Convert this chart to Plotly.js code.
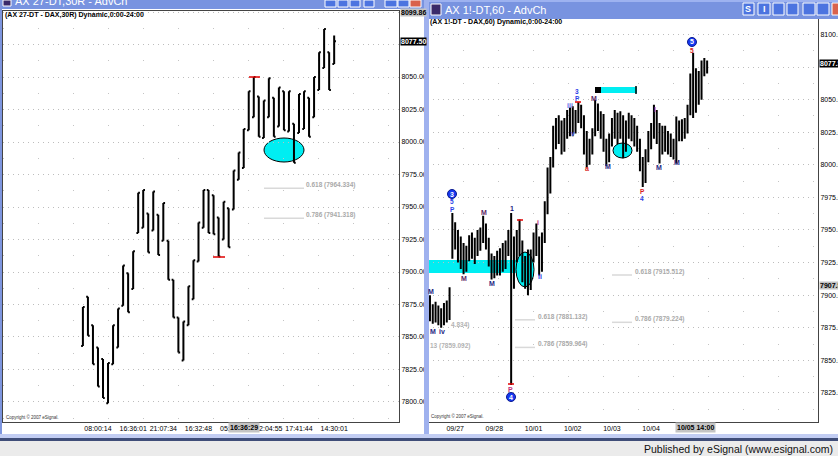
<!DOCTYPE html>
<html><head><meta charset="utf-8">
<script src="https://cdn.plot.ly/plotly-3.0.1.min.js"></script>
<style>html,body{margin:0;padding:0;background:#fff;overflow:hidden}#chart{width:838px;height:456px}</style>
</head><body><div id="chart"></div>
<script>
// ---------- Left chart: AX 27-DT - DAX, 30R (range bars) ----------
const L_open  = [7843,7881,7859,7842,7833,7799,7829,7842,7874,7899,7887,7930,7934,7945,7932,7944,7924,7924,7894,7865,7832,7859,7879,7908,7934,7963,7959,7942,7925,7949,7948,7971,7980,8009,8019,8035,8003,8019,8034,8012,8039,8008,8014,8007,8010,8034,8019,8040,8057,8069,8060];
const L_high  = [7873,7881,7859,7842,7833,7830,7859,7872,7905,7899,7916,7961,7963,7945,7962,7944,7953,7924,7894,7865,7862,7889,7909,7938,7963,7963,7959,7942,7954,7949,7978,7992,8010,8039,8050,8035,8032,8049,8034,8042,8039,8039,8014,8037,8039,8034,8050,8069,8087,8069,8082];
const L_low   = [7843,7851,7829,7812,7803,7799,7829,7842,7874,7869,7887,7930,7934,7915,7932,7913,7924,7894,7865,7838,7832,7859,7879,7908,7934,7930,7929,7912,7925,7919,7948,7971,7980,8009,8019,8004,8003,8019,8004,8012,8009,8008,7984,8007,8010,8004,8019,8040,8057,8040,8060];
const L_close = [7873,7851,7829,7812,7803,7830,7859,7872,7905,7869,7916,7961,7963,7915,7962,7913,7953,7894,7865,7838,7862,7889,7909,7938,7963,7930,7929,7912,7954,7919,7978,7992,8010,8039,8050,8004,8032,8049,8004,8042,8009,8039,7984,8037,8039,8004,8050,8069,8087,8040,8077.5];
const L_tickBar  = [3,10,16,23,30,37,43,50];
const L_tickText = ['08:00:14','16:36:01','21:07:34','16:32:48','05:48:10','12:04:55','17:41:44','14:30:01'];
const L_fibRatio = ['0.618','0.786'];
const L_fibValue = [7964.334, 7941.318];

// ---------- Right chart: AX 1!-DT - DAX, 60 min ----------
const R_open  = [7892,7884,7888,7882,7886,7879,7890,7884,7930,7952,7940,7930,7938,7922,7934,7940,7932,7940,7945,7948,7950,7940,7928,7918,7925,7920,7930,7924,7936,7945,7915,7935,7945,7935,7915,7925,7908,7930,7942,7935,7922,7944,7968,7992,8002,8025,8030,8020,8014,8032,8026,8040,8028,8038,8044,8032,8012,8005,8016,8024,8044,8030,8036,8014,8004,8020,8030,8026,8034,8024,8012,8030,8026,8034,8020,8016,8000,7992,8006,8020,8026,8040,8022,8010,8024,8016,8020,8012,8015,8030,8022,8030,8028,8042,8062,8050,8068,8056,8074,8072];
const R_high  = [7900,7893,7895,7892,7890,7894,7896,7906,7963,7956,7950,7945,7940,7938,7946,7948,7944,7950,7952,7961,7955,7944,7932,7930,7934,7936,7940,7942,7950,7963,7945,7950,7958,7942,7930,7935,7935,7948,7955,7945,7948,7972,7998,8006,8030,8036,8038,8034,8036,8042,8044,8045,8042,8048,8046,8038,8026,8020,8028,8050,8047,8041,8039,8020,8024,8036,8042,8040,8041,8038,8034,8040,8038,8036,8030,8020,8006,8012,8026,8032,8046,8042,8032,8030,8030,8026,8024,8020,8037,8034,8035,8036,8046,8070,8086,8074,8072,8080,8082,8080];
const R_low   = [7880,7878,7879,7877,7875,7877,7879,7881,7928,7935,7925,7920,7916,7918,7926,7928,7924,7930,7934,7940,7935,7922,7912,7913,7915,7915,7918,7920,7930,7831,7905,7925,7930,7910,7905,7900,7904,7925,7930,7915,7918,7940,7962,7978,7998,8012,8016,8008,8010,8020,8022,8022,8024,8032,8028,8008,7998,8000,8008,8022,8026,8020,8010,7999,8002,8014,8020,8016,8020,8005,8010,8020,8018,8014,8010,7995,7983,7986,8002,8012,8020,8016,8001,8008,8010,8008,8006,8004,8001,8018,8018,8020,8024,8038,8036,8040,8046,8050,8068,8070];
const R_close = [7884,7888,7882,7886,7879,7890,7884,7902,7952,7940,7930,7938,7922,7934,7940,7932,7940,7945,7948,7950,7940,7928,7918,7925,7920,7930,7924,7936,7945,7915,7935,7945,7935,7915,7925,7908,7930,7942,7935,7922,7944,7968,7992,8002,8025,8030,8020,8014,8032,8026,8040,8028,8038,8044,8032,8012,8005,8016,8024,8044,8030,8036,8014,8004,8020,8030,8026,8034,8024,8012,8030,8026,8034,8020,8016,8000,7992,8006,8020,8026,8040,8022,8010,8024,8016,8020,8012,8015,8030,8022,8030,8028,8042,8062,8050,8068,8056,8074,8072,8077.5];
const R_tickBar  = [9,23,37,51,65,79];
const R_tickText = ['09/27','09/28','10/01','10/02','10/03','10/04'];
const R_fibRatio = ['0.618','0.786','0.618','0.786'];
const R_fibValue = [7915.512, 7879.224, 7881.132, 7859.964];

// ---------- helpers (layout only) ----------
const W = 838, H = 456;
const px = x => x / W, py = y => 1 - y / H;
const FF = 'Liberation Sans';
function rect(x0, y0, x1, y1, fill, line, lw, layer) {
  return {type:'rect', xref:'paper', yref:'paper', x0:px(x0), x1:px(x1), y0:py(y1), y1:py(y0),
          fillcolor:fill, line:{color:line||fill, width:lw||0}, layer:layer||'above'};
}
function ell(x0, y0, x1, y1) {
  return {type:'circle', xref:'paper', yref:'paper', x0:px(x0), x1:px(x1), y0:py(y1), y1:py(y0),
          fillcolor:'#00eef2', line:{color:'#000', width:1}, layer:'below'};
}
function hline(x0, x1, y, color, w) {
  return {type:'line', xref:'paper', yref:'paper', x0:px(x0), x1:px(x1), y0:py(y), y1:py(y), line:{color:color, width:w||1}};
}
function T(x, y, text, o) {
  o = o || {};
  const a = {xref:'paper', yref:'paper', x:px(x), y:py(y), text:text, showarrow:false,
    xanchor:o.xa||'center', yanchor:'middle', font:{family:o.ff||FF, size:o.s||7, color:o.c||'#000'}, borderpad:o.bp||0};
  if (o.bg) a.bgcolor = o.bg;
  return a;
}

const shapes = [], ann = [];
// cyan drawings (under bars)
shapes.push(ell(264, 138, 304, 162));
shapes.push(rect(428, 260, 516, 273, '#00eef2', null, 0, 'below'));
shapes.push(ell(516, 252, 534, 287));
shapes.push(ell(613, 143, 632, 158));
shapes.push(rect(595, 87, 637, 93, '#00eef2', null, 0, 'above'));
shapes.push(rect(595, 87, 601, 93, '#000', null, 0, 'above'));
shapes.push({type:'line', xref:'paper', yref:'paper', x0:px(636), x1:px(636), y0:py(86), y1:py(94), line:{color:'#000', width:1.5}});

// red ticks
shapes.push(hline(249, 260, 77, '#e00000', 1.5));
shapes.push(hline(213, 225, 257, '#e00000', 1.5));
shapes.push(hline(517, 523, 220, '#e00000', 1.5));
shapes.push(hline(508, 514, 384, '#e00000', 1.5));
shapes.push(hline(575, 581, 102, '#e00000', 1.5));

// fib levels
function yL(v){ return 142 - (v - 8000) * 1.3; }
function yR(v){ return 34.5 + (8100 - v) * 1.3036; }
L_fibValue.forEach((v, i) => {
  shapes.push(hline(264, 304, yL(v), '#d9d9d9', 1.5));
  ann.push(T(305, yL(v) - 3, '<b>' + L_fibRatio[i] + ' (' + v.toFixed(3) + ')</b>', {xa:'left', c:'#a9a9a9', s:6.5}));
});
R_fibValue.forEach((v, i) => {
  const x0 = i < 2 ? 612 : 515;
  shapes.push(hline(x0, x0 + 20, yR(v), '#d9d9d9', 1.5));
  ann.push(T(x0 + 22, yR(v) - 3, '<b>' + R_fibRatio[i] + ' (' + v.toFixed(3) + ')</b>', {xa:'left', c:'#a9a9a9', s:6.5}));
});
ann.push(T(450, 325, '<b>4.834)</b>', {xa:'left', c:'#b3b3b3', s:6.5}));
ann.push(T(429, 346, '<b>13 (7859.092)</b>', {xa:'left', c:'#b3b3b3', s:6.5}));

// wave labels on right chart
const navy = '#25257f', purp = '#5c1f63', blue = '#2a3ee6', red = '#d81c1c', pink = '#c0307a';
function circ(cx, cy, t) {
  shapes.push({type:'circle', xref:'paper', yref:'paper', x0:px(cx-4.5), x1:px(cx+4.5), y0:py(cy+4.5), y1:py(cy-4.5),
               fillcolor:'#1638f0', line:{color:'#0a1a90', width:1}});
  ann.push(T(cx, cy, '<b>' + t + '</b>', {c:'#fff', s:7}));
}
ann.push(T(431, 291, '<b>M</b>', {c:navy}));
ann.push(T(433, 331, '<b>M</b>', {c:navy}));
ann.push(T(442, 331, '<b>iv</b>', {c:navy}));
circ(452, 194, '3');
ann.push(T(452, 202, '<b>5</b>', {c:blue, s:6.5}));
ann.push(T(452, 209.5, '<b>P</b>', {c:blue, s:6.5}));
ann.push(T(464, 278, '<b>M</b>', {c:purp}));
ann.push(T(484, 212, '<b>M</b>', {c:purp}));
ann.push(T(492, 283, '<b>M</b>', {c:navy}));
ann.push(T(512, 209, '<b>1</b>', {c:navy}));
ann.push(T(511, 389, '<b>P</b>', {c:pink}));
circ(511, 397, '4');
ann.push(T(540, 276, '<b>ii</b>', {c:blue}));
ann.push(T(538, 222, '<b>i</b>', {c:pink}));
ann.push(T(570, 106, '<b>iii</b>', {c:'#5a6ae8'}));
ann.push(T(573, 133, '<b>v</b>', {c:'#5a6ae8'}));
ann.push(T(577, 91, '<b>3</b>', {c:blue, s:6.5}));
ann.push(T(577, 98.5, '<b>P</b>', {c:blue, s:6.5}));
ann.push(T(587, 168, '<b>a</b>', {c:red}));
ann.push(T(594, 99, '<b>M</b>', {c:purp}));
ann.push(T(608, 166, '<b>M</b>', {c:navy}));
ann.push(T(642, 191, '<b>P</b>', {c:red, s:6.5}));
ann.push(T(642, 198.5, '<b>4</b>', {c:blue, s:6.5}));
ann.push(T(655, 110, '<b>I</b>', {c:pink}));
ann.push(T(659, 167, '<b>M</b>', {c:navy}));
ann.push(T(677, 163, '<b>M</b>', {c:navy}));
circ(692, 42, '5');
ann.push(T(692, 50, '<b>5</b>', {c:red, s:6.5}));

// price boxes & cursor boxes
ann.push(T(400, yL(8099.86), '<b>8099.86</b>', {xa:'left', bg:'#c4c4c4', s:7}));
ann.push(T(400, yL(8077.5), '<b>8077.50</b>', {xa:'left', bg:'#000', c:'#fff', s:7}));
ann.push(T(819, yR(8077.5), '<b>8077.5</b>', {xa:'left', bg:'#000', c:'#fff', s:7}));
ann.push(T(819, yR(7907.5), '<b>7907.5</b>', {xa:'left', bg:'#c4c4c4', s:7}));
ann.push(T(244, 427, '<b>16:36:29</b>', {bg:'#c4c4c4', s:7, bp:1}));
ann.push(T(695, 427, '<b>10/05 14:00</b>', {bg:'#c4c4c4', s:7, bp:1}));

// headers, copyright
ann.push(T(4, 15, '<b>(AX 27-DT - DAX,30R) Dynamic,0:00-24:00</b>', {xa:'left', s:7}));
ann.push(T(429, 22, '<b>(AX 1!-DT - DAX,60) Dynamic,0:00-24:00</b>', {xa:'left', s:7}));
ann.push(T(5, 417, 'Copyright © 2007 eSignal.', {xa:'left', s:4.5, c:'#333'}));
ann.push(T(430, 416, 'Copyright © 2007 eSignal.', {xa:'left', s:4.5, c:'#333'}));

// window chrome
shapes.push(rect(0, 0, 424, 9, '#7893e0'));
shapes.push(rect(0, 0, 2, 438, '#7d95de'));
shapes.push(rect(424, 0, 429, 438, '#9fb1ee'));
shapes.push(rect(429, 0, 838, 19, '#7893e0'));
shapes.push(rect(429, 0, 838, 2, '#9db2f0'));
shapes.push(rect(0, 434, 838, 438, '#c2cdf3'));
shapes.push(rect(0, 438, 838, 441, '#3f4d78'));
shapes.push(rect(0, 441, 838, 456, '#ebebeb'));
[[325,336],[338,348],[350,360],[364,374],[385,397],[398,409],[410,421]].forEach((b, i) => {
  shapes.push(rect(b[0], 0, b[1], 7, i === 6 ? '#d9614c' : '#4c74e0', '#ffffff', 1));
});
[[743,754],[758,770],[773,784],[787,798],[803,815],[817,829],[832,844]].forEach((b, i) => {
  shapes.push(rect(b[0], 3, b[1], 15, i === 6 ? '#d9614c' : '#4c74e0', '#ffffff', 1));
});
ann.push(T(748, 9, '<b>S</b>', {c:'#fff', s:9}));
ann.push(T(764, 9, '<b>I</b>', {c:'#fff', s:9}));
shapes.push(rect(431, 4, 441, 15, '#3a2a6a', '#ffffff', 1));
shapes.push(rect(3, 0, 11, 6, '#3a2a6a', '#ffffff', 1));
ann.push(T(14, 1, 'AX 27-DT,30R - AdvCh', {xa:'left', c:'#fff', s:11}));
ann.push(T(444, 10, 'AX 1!-DT,60 - AdvCh', {xa:'left', c:'#fff', s:11}));
ann.push(T(834, 449, 'Published by eSignal (www.esignal.com)', {xa:'right', c:'#111', s:10.5}));

// ---------- traces ----------
const idxL = L_open.map((_, i) => i);
const idxR = R_open.map((_, i) => i);
const bar = {color:'#000', width:2};
const traces = [
  {type:'ohlc', x:idxL, open:L_open, high:L_high, low:L_low, close:L_close, xaxis:'x', yaxis:'y',
   increasing:{line:bar}, decreasing:{line:bar}, tickwidth:0.35, hoverinfo:'skip', showlegend:false},
  {type:'ohlc', x:idxR, open:R_open, high:R_high, low:R_low, close:R_close, xaxis:'x2', yaxis:'y2',
   increasing:{line:bar}, decreasing:{line:bar}, tickwidth:0.35, hoverinfo:'skip', showlegend:false}
];

const tickfont = {family:FF, size:7, color:'#000'};
const yCommon = {side:'right', dtick:25, tick0:0, ticks:'', showgrid:true, gridcolor:'#bdbdbd', griddash:'1px,4px',
  minor:{dtick:12.5, showgrid:true, gridcolor:'#c4c4c4', griddash:'1px,34px'},
  showline:true, mirror:true, linecolor:'#444', linewidth:1, zeroline:false, tickfont:tickfont, fixedrange:true};
const xCommon = {ticks:'', showgrid:false, showline:true, mirror:true, linecolor:'#444', linewidth:1, zeroline:false,
  tickfont:tickfont, rangeslider:{visible:false}, fixedrange:true};

const layout = {
  width:W, height:H, margin:{l:0, r:0, t:0, b:0}, paper_bgcolor:'#ffffff', plot_bgcolor:'rgba(0,0,0,0)',
  showlegend:false,
  xaxis: Object.assign({}, xCommon, {domain:[px(3), px(399)], range:[-15.9, 62.9], tickvals:L_tickBar, ticktext:L_tickText, anchor:'y'}),
  yaxis: Object.assign({}, yCommon, {domain:[py(422), py(11)], range:[7784.6, 8100.8], tickformat:'.2f', anchor:'x',
    labelalias:{'8075.00':' ', '8100.00':' '}}),
  xaxis2: Object.assign({}, xCommon, {domain:[px(428), px(818)], range:[-0.7, 138.6], tickvals:R_tickBar, ticktext:R_tickText, anchor:'y2'}),
  yaxis2: Object.assign({}, yCommon, {domain:[py(422), py(17)], range:[7802.7, 8113.4], tickformat:'.1f', anchor:'x2',
    labelalias:{'8075.0':' '}}),
  shapes:shapes, annotations:ann
};
Plotly.newPlot('chart', traces, layout, {staticPlot:true, displayModeBar:false});
</script></body></html>
